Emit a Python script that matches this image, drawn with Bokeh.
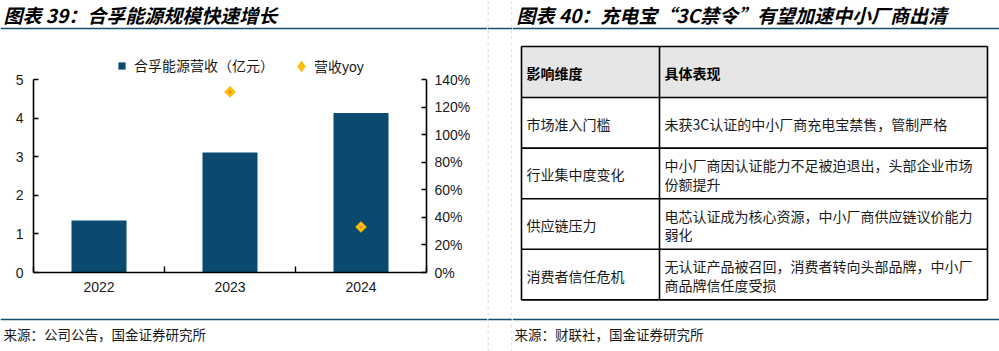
import math
from bokeh.plotting import figure
from bokeh.layouts import row, column
from bokeh.models import (Range1d, LinearAxis, FixedTicker, PrintfTickFormatter,
                          Legend, LegendItem, ColumnDataSource)
from bokeh.core.properties import value
from bokeh.embed import file_html
from bokeh.resources import INLINE

# ---------------- data ----------------
years = ["2022", "2023", "2024"]
revenue = [1.35, 3.11, 4.13]            # 合孚能源营收（亿元）
yoy = [float("nan"), 131.0, 33.0]       # 营收yoy (%)
rev_ticks = [0, 1, 2, 3, 4, 5]
pct_ticks = [0, 20, 40, 60, 80, 100, 120, 140]

left_title = "图表 39：合孚能源规模快速增长"
left_source = "来源：公司公告，国金证券研究所"
legend_bar = "合孚能源营收（亿元）"
legend_yoy = "营收yoy"

right_title = "图表 40：充电宝“3C禁令”有望加速中小厂商出清"
table_header = ["影响维度", "具体表现"]
table_dims = ["市场准入门槛", "行业集中度变化", "供应链压力", "消费者信任危机"]
table_desc = [
    ["未获3C认证的中小厂商充电宝禁售，管制严格"],
    ["中小厂商因认证能力不足被迫退出，头部企业市场", "份额提升"],
    ["电芯认证成为核心资源，中小厂商供应链议价能力", "弱化"],
    ["无认证产品被召回，消费者转向头部品牌，中小厂", "商品牌信任度受损"],
]
right_source = "来源：财联社，国金证券研究所"

# ---------------- styles / layout ----------------
NAVY = "#0B4A6F"
RULE = "#17506F"
GOLD = "#FFC000"
GOLD_EDGE = "#F7B500"
GOLD_CORE = "#F08A3C"
TXT = "#1a1a1a"
DASH = "#C4C4C4"
CJK = "Noto Sans CJK SC"
LAT = "Liberation Sans"
TITLE_SIZE = "19px"

W, H = 999, 351
LEFT_W, GAP_W = 487, 25
RIGHT_W = W - LEFT_W - GAP_W
TITLE_H, FOOT_H = 40, 41
CHART_H = H - TITLE_H - FOOT_H
RULE_TOP, RULE_BOT = 28, 319
TITLE_Y, SOURCE_Y = 14, 333

# chart frame (global px)
FR_L, FR_R = 33, 426
FR_TOP, AX_TOP, FR_BOT = 50, 79, 272


def canvas(w, h, x0, y0):
    p = figure(width=w, height=h, x_range=Range1d(x0, x0 + w), y_range=Range1d(y0 + h, y0),
               x_axis_location=None, y_axis_location=None, toolbar_location=None,
               output_backend="svg", min_border=0, outline_line_color=None)
    p.frame_align = False
    p.grid.visible = False
    p.background_fill_color = "white"
    p.border_fill_color = "white"
    return p


# ---------------- left title ----------------
t_left = canvas(LEFT_W, TITLE_H, 0, 0)
t_left.text(x=[3], y=[TITLE_Y], text=[left_title], text_font=value(CJK),
            text_font_size=TITLE_SIZE, text_font_style="bold italic", text_color="#000000",
            text_baseline="middle", text_align="left")
t_left.segment(x0=[0], y0=[RULE_TOP], x1=[LEFT_W], y1=[RULE_TOP], line_color=RULE, line_width=1.6)

# ---------------- chart ----------------
frame_h = FR_BOT - FR_TOP
axis_px = FR_BOT - AX_TOP
y_end = rev_ticks[-1] * frame_h / axis_px
pct_end = pct_ticks[-1] * frame_h / axis_px

xs = [i + 0.5 for i in range(len(years))]
src = ColumnDataSource(dict(x=xs, revenue=revenue, yoy=yoy))

p = figure(width=LEFT_W, height=CHART_H, x_range=Range1d(0, len(years)), y_range=Range1d(0, y_end),
           toolbar_location=None, output_backend="svg",
           min_border_left=FR_L, min_border_right=LEFT_W - FR_R,
           min_border_top=FR_TOP - TITLE_H, min_border_bottom=TITLE_H + CHART_H - FR_BOT,
           outline_line_color=None)
p.frame_align = False
p.grid.visible = False
p.extra_y_ranges = {"pct": Range1d(0, pct_end)}

bars = p.vbar(x="x", top="revenue", width=0.42, source=src, fill_color=NAVY, line_color=None)
p.scatter(x="x", y="yoy", source=src, y_range_name="pct", marker="square", angle=math.pi / 4,
          size=7.5, fill_color=GOLD, line_color=GOLD_EDGE, line_width=1)
p.scatter(x="x", y="yoy", source=src, y_range_name="pct", marker="circle",
          size=3.5, fill_color=GOLD_CORE, line_color=None)
# legend-only glyph (no drawable point)
dummy = p.scatter(x=[float("nan")], y=[float("nan")], marker="diamond",
                  fill_color=GOLD, line_color=GOLD_EDGE)

yax = p.yaxis[0]
yax.ticker = FixedTicker(ticks=rev_ticks)
yax.bounds = (rev_ticks[0], rev_ticks[-1])

rax = LinearAxis(y_range_name="pct", ticker=FixedTicker(ticks=pct_ticks),
                 formatter=PrintfTickFormatter(format="%d%%"),
                 bounds=(pct_ticks[0], pct_ticks[-1]))
p.add_layout(rax, "right")

for ax in (yax, rax):
    ax.major_tick_in = 5
    ax.major_tick_out = 0
    ax.minor_tick_in = 0
    ax.minor_tick_out = 0
yax.major_label_standoff = 10
rax.major_label_standoff = 8

xax = p.xaxis[0]
xax.ticker = FixedTicker(ticks=xs, minor_ticks=list(range(len(years) + 1)))
xax.major_label_overrides = {x: y for x, y in zip(xs, years)}
xax.major_tick_in = 0
xax.major_tick_out = 0
xax.minor_tick_in = 6
xax.minor_tick_out = 0
xax.major_label_standoff = 9

for ax in (xax, yax, rax):
    ax.axis_line_color = "#000000"
    ax.axis_line_width = 1.6
    ax.major_tick_line_color = "#000000"
    ax.major_tick_line_width = 1.4
    ax.minor_tick_line_color = "#000000"
    ax.minor_tick_line_width = 1.4
    ax.major_label_text_font = LAT
    ax.major_label_text_font_size = "14px"
    ax.major_label_text_color = TXT

leg_a = Legend(items=[LegendItem(label=legend_bar, renderers=[bars])],
               location=(117 - FR_L, FR_BOT - 75), orientation="horizontal",
               glyph_width=9, glyph_height=9, label_standoff=8, label_height=16,
               padding=0, margin=0, border_line_alpha=0, background_fill_alpha=0,
               label_text_font=CJK, label_text_font_size="14px", label_text_color=TXT)
leg_b = Legend(items=[LegendItem(label=legend_yoy, renderers=[dummy])],
               location=(288 - FR_L, FR_BOT - 79), orientation="horizontal",
               glyph_width=26, glyph_height=26, label_standoff=0, label_height=16,
               padding=0, margin=0, border_line_alpha=0, background_fill_alpha=0,
               label_text_font=LAT + ", " + CJK, label_text_font_size="14px",
               label_text_color=TXT)
p.add_layout(leg_a)
p.add_layout(leg_b)

# ---------------- left footer ----------------
f_left = canvas(LEFT_W, FOOT_H, 0, TITLE_H + CHART_H)
f_left.segment(x0=[0], y0=[RULE_BOT], x1=[LEFT_W], y1=[RULE_BOT], line_color=RULE, line_width=1.6)
f_left.text(x=[3], y=[SOURCE_Y], text=[left_source], text_font=value(CJK),
            text_font_size="13.5px", text_color=TXT, text_baseline="middle", text_align="left")

# ---------------- gap ----------------
gap = canvas(GAP_W, H, LEFT_W, 0)
gap.segment(x0=[LEFT_W, LEFT_W], y0=[RULE_TOP, RULE_BOT], x1=[LEFT_W + GAP_W] * 2,
            y1=[RULE_TOP, RULE_BOT], line_color=RULE, line_width=1.6)
gap.segment(x0=[LEFT_W + 0.5, LEFT_W + GAP_W - 0.5], y0=[0, 0],
            x1=[LEFT_W + 0.5, LEFT_W + GAP_W - 0.5], y1=[H, H],
            line_color=DASH, line_width=1, line_dash="3 3")

# ---------------- right panel ----------------
R0 = LEFT_W + GAP_W
rp = canvas(RIGHT_W, H, R0, 0)
rp.text(x=[R0 + 4], y=[TITLE_Y], text=[right_title], text_font=value(CJK),
        text_font_size=TITLE_SIZE, text_font_style="bold italic", text_color="#000000",
        text_baseline="middle", text_align="left")
rp.segment(x0=[R0], y0=[RULE_TOP], x1=[W], y1=[RULE_TOP], line_color=RULE, line_width=1.6)
rp.segment(x0=[R0], y0=[RULE_BOT], x1=[W], y1=[RULE_BOT], line_color=RULE, line_width=1.6)
rp.text(x=[R0 + 2], y=[SOURCE_Y], text=[right_source], text_font=value(CJK),
        text_font_size="13.5px", text_color=TXT, text_baseline="middle", text_align="left")

TBL_L, TBL_R, COL_X = 521, 987, 659
TBL_TOP, HEAD_H, ROW_H = 46, 51, 50.6
edges = [TBL_TOP, TBL_TOP + HEAD_H] + [TBL_TOP + HEAD_H + ROW_H * (i + 1) for i in range(len(table_dims))]
TBL_BOT = edges[-1]

rp.quad(left=[TBL_L], right=[TBL_R], top=[edges[0]], bottom=[edges[1]],
        fill_color="#E6E6E6", line_color=None)
rp.segment(x0=[TBL_L] * len(edges), y0=edges, x1=[TBL_R] * len(edges), y1=edges,
           line_color="#000000", line_width=1.6)
rp.segment(x0=[TBL_L, COL_X, TBL_R], y0=[TBL_TOP] * 3, x1=[TBL_L, COL_X, TBL_R], y1=[TBL_BOT] * 3,
           line_color="#000000", line_width=1.6)

PAD_L, PAD_R = 5, 5
LINE_GAP = 18.5
head_y = (edges[0] + edges[1]) / 2 + 1
rp.text(x=[TBL_L + PAD_L, COL_X + PAD_R], y=[head_y, head_y], text=table_header,
        text_font=value(CJK), text_font_size="14px", text_font_style="bold",
        text_color="#000000", text_baseline="middle", text_align="left")

tx, ty, tt = [], [], []
for i, (dim, desc) in enumerate(zip(table_dims, table_desc)):
    cy = (edges[i + 1] + edges[i + 2]) / 2 + 1
    tx.append(TBL_L + PAD_L); ty.append(cy); tt.append(dim)
    n = len(desc)
    for j, line in enumerate(desc):
        tx.append(COL_X + PAD_R)
        ty.append(cy + (j - (n - 1) / 2) * LINE_GAP)
        tt.append(line)
rp.text(x=tx, y=ty, text=tt, text_font=value(CJK), text_font_size="14px",
        text_color=TXT, text_baseline="middle", text_align="left")

layout = row(column(t_left, p, f_left, spacing=0), gap, rp, spacing=0)

open("out.html", "w").write(file_html(layout, INLINE))
